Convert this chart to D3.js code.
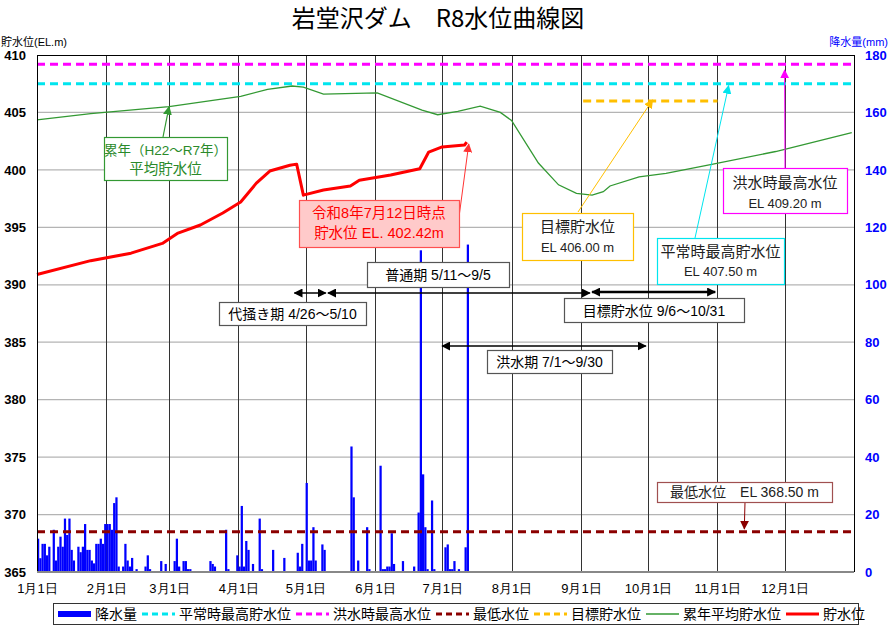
<!DOCTYPE html>
<html>
<head>
<meta charset="utf-8">
<script src="https://cdn.jsdelivr.net/npm/d3@7"></script>
<style>
  body { margin: 0; background: #fff; }
  svg { font-family: "Liberation Sans", "Noto Sans CJK JP", sans-serif; }
</style>
</head>
<body>
<div id="chart"></div>
<script>
// ---- data ----
const chartTitle = '岩堂沢ダム　R8水位曲線図';
const levelTicks = [365, 370, 375, 380, 385, 390, 395, 400, 405, 410];
const rainTicks = [0, 20, 40, 60, 80, 100, 120, 140, 160, 180];
const monthLabels = ['1月1日', '2月1日', '3月1日', '4月1日', '5月1日', '6月1日',
  '7月1日', '8月1日', '9月1日', '10月1日', '11月1日', '12月1日'];

// daily rainfall (mm) from 1/1
const rainStart = '2026-01-01';
const rainfall = [
  11.6, 4.8, 9.8, 9.8, 5.8, 8.8, 0, 14.7, 4, 8.8,
  12.3, 8.8, 18.6, 12.9, 18.6, 7.7, 4, 0, 8.8, 6.9,
  8.8, 16.7, 7.7, 7.7, 4, 3, 9.8, 9.8, 11.6, 9.8,
  16.7, 16.7, 16.7, 14.7, 24, 26, 1.9, 0, 1.9, 9.8,
  4, 1.9, 4.9, 0, 1, 0, 0, 0, 1.9, 5.8,
  1, 0, 0, 0, 0, 3.8, 0, 2.8, 0, 0,
  0, 3.8, 11.6, 1.9, 0, 3.8, 3.8, 1, 1, 0,
  0, 0, 0, 0, 0, 0, 0, 3.8, 2.8, 1.9,
  0, 0, 0, 0, 14.7, 1, 0, 0, 0, 5.8,
  1.9, 23, 1.9, 10.8, 7.7, 0, 2.8, 0, 0, 18.6,
  1, 0, 0, 0, 0, 7.7, 0, 0, 0, 0,
  4.9, 0, 0, 0, 0, 0, 6.7, 1.9, 9.8, 0,
  31, 4, 4, 15.6, 4, 0, 0, 9.6, 7.7, 0,
  0, 0, 0, 0, 0, 0, 0, 0, 0, 0,
  43.7, 26, 0, 4, 0, 0, 0, 15.6, 1, 0,
  0, 0, 0, 37, 1, 1, 1.9, 1.9, 13.5, 2.8,
  0, 0, 0, 3.8, 0, 0, 0, 0, 1.9, 0,
  20.7, 112, 34, 15.6, 1, 0, 24.9, 1, 0, 0,
  0, 0, 8.6, 9.6, 1, 1, 3.8, 0, 1, 0,
  0, 8.6, 114
];

// R8 storage level (貯水位)
const storageDates = ['2026-01-01', '2026-01-25', '2026-02-12', '2026-02-26', '2026-03-05',
  '2026-03-15', '2026-03-25', '2026-04-02', '2026-04-09', '2026-04-15', '2026-04-24',
  '2026-04-27', '2026-04-30', '2026-05-09', '2026-05-21', '2026-05-25', '2026-06-08',
  '2026-06-21', '2026-06-25', '2026-07-01', '2026-07-11', '2026-07-12'];
const storageLevels = [390.9, 392.1, 392.75, 393.6, 394.5,
  395.2, 396.25, 397.2, 398.85, 399.9, 400.4,
  400.5, 397.8, 398.25, 398.6, 399.1, 399.55,
  400.1, 401.55, 402.0, 402.17, 402.42];

// average storage level H22-R7 (累年平均貯水位)
const avgDates = ['2026-01-01', '2026-01-25', '2026-03-01', '2026-04-02', '2026-04-14',
  '2026-04-25', '2026-04-30', '2026-05-09', '2026-06-02', '2026-06-22', '2026-06-29',
  '2026-07-08', '2026-07-18', '2026-07-27', '2026-08-01', '2026-08-13', '2026-08-22',
  '2026-08-30', '2026-09-06', '2026-09-11', '2026-09-14', '2026-09-27', '2026-10-09',
  '2026-10-30', '2026-11-27', '2026-12-31'];
const avgLevels = [404.35, 404.9, 405.5, 406.4, 407.0,
  407.3, 407.2, 406.6, 406.7, 405.2, 404.8,
  405.1, 405.55, 405.0, 404.3, 400.6, 398.7,
  397.95, 397.8, 398.1, 398.6, 399.4, 399.7,
  400.5, 401.6, 403.24];

const floodMaxLevel = 409.2;   // 洪水時最高水位
const normalMaxLevel = 407.5;  // 平常時最高貯水位
const minLevel = 368.5;        // 最低水位
const targetLevel = 406.0;     // 目標貯水位
const targetLineDates = ['2026-09-02', '2026-11-01'];

const periodLabels = ['代掻き期 4/26～5/10', '普通期 5/11～9/5', '洪水期 7/1～9/30', '目標貯水位 9/6～10/31'];
const periodStarts = ['2026-04-26', '2026-05-11', '2026-07-01', '2026-09-06'];
const periodEnds = ['2026-05-10', '2026-09-05', '2026-09-30', '2026-10-31'];

const seriesNames = ['降水量', '平常時最高貯水位', '洪水時最高水位', '最低水位', '目標貯水位', '累年平均貯水位', '貯水位'];

// ---- chart ----
const parseDate = d3.timeParse('%Y-%m-%d');
const margin = { top: 55, right: 36, bottom: 65, left: 37 };
const width = 890 - margin.left - margin.right;
const height = 637 - margin.top - margin.bottom;

const colors = {
  rain: '#0000ff', normal: '#00e5ee', flood: '#ff00ff', min: '#8b0000',
  target: '#ffbf00', avg: '#339933', storage: '#ff0000'
};

const svg = d3.select('#chart').append('svg')
  .attr('width', 890)
  .attr('height', 637);

const defs = svg.append('defs');
function marker(id, color, size) {
  defs.append('marker')
    .attr('id', id)
    .attr('viewBox', '0 0 10 10')
    .attr('refX', 9).attr('refY', 5)
    .attr('markerUnits', 'userSpaceOnUse')
    .attr('markerWidth', size).attr('markerHeight', size)
    .attr('orient', 'auto-start-reverse')
    .append('path')
    .attr('d', 'M0,0L10,5L0,10z')
    .attr('fill', color);
}
marker('arrBlack', '#000', 9);
marker('arrGreen', colors.avg, 9);
marker('arrRed', '#ff3333', 9);
marker('arrOrange', colors.target, 9);
marker('arrCyan', colors.normal, 9);
marker('arrMagenta', colors.flood, 9);
marker('arrMin', colors.min, 9);

svg.append('text')
  .attr('x', 438).attr('y', 27)
  .attr('text-anchor', 'middle')
  .style('font-size', '24px')
  .style('font-family', '"Noto Sans CJK JP", sans-serif')
  .text(chartTitle);

svg.append('text')
  .attr('x', 1).attr('y', 46)
  .style('font-size', '11px')
  .text('貯水位(EL.m)');
svg.append('text')
  .attr('x', 888).attr('y', 46)
  .attr('text-anchor', 'end')
  .style('font-size', '11px')
  .attr('fill', '#0000ff')
  .text('降水量(mm)');

const g = svg.append('g')
  .attr('transform', 'translate(' + margin.left + ',' + margin.top + ')');

const x = d3.scaleTime()
  .domain([parseDate('2026-01-01'), parseDate('2027-01-01')])
  .range([0, width]);
const y = d3.scaleLinear().domain([365, 410]).range([height, 0]);
const yr = d3.scaleLinear().domain([0, 180]).range([height, 0]);

const monthStarts = d3.timeMonth.range(parseDate('2026-01-01'), parseDate('2027-01-01'));

// grid
g.append('g').selectAll('line')
  .data(levelTicks.slice(1, -1))
  .enter().append('line')
  .attr('x1', 0).attr('x2', width)
  .attr('y1', d => y(d)).attr('y2', d => y(d))
  .attr('stroke', '#b4b4b4').attr('stroke-width', 1.2);

g.append('g').selectAll('line')
  .data(monthStarts.slice(1))
  .enter().append('line')
  .attr('x1', d => Math.round(x(d)) + 0.5).attr('x2', d => Math.round(x(d)) + 0.5)
  .attr('y1', 0).attr('y2', height)
  .attr('stroke', '#333').attr('stroke-width', 1);

// rainfall bars
const rainData = rainfall.map((v, i) => ({ date: d3.timeDay.offset(parseDate(rainStart), i), value: v }));
g.append('g').selectAll('rect')
  .data(rainData.filter(d => d.value > 0))
  .enter().append('rect')
  .attr('x', d => x(d.date))
  .attr('width', d => x(d3.timeDay.offset(d.date, 1)) - x(d.date))
  .attr('y', d => yr(d.value))
  .attr('height', d => height - yr(d.value))
  .attr('fill', colors.rain);

// reference levels
function hLine(level, color, x0, x1) {
  g.append('line')
    .attr('x1', x0).attr('x2', x1)
    .attr('y1', y(level)).attr('y2', y(level))
    .attr('stroke', color).attr('stroke-width', 3)
    .attr('stroke-dasharray', '8,5');
}
hLine(floodMaxLevel, colors.flood, 0, width);
hLine(normalMaxLevel, colors.normal, 0, width);
hLine(minLevel, colors.min, 0, width);
hLine(targetLevel, colors.target, x(parseDate(targetLineDates[0])), x(parseDate(targetLineDates[1])));

// average line
const avgData = avgDates.map((d, i) => ({ date: parseDate(d), level: avgLevels[i] }));
const storageData = storageDates.map((d, i) => ({ date: parseDate(d), level: storageLevels[i] }));
const line = d3.line().x(d => x(d.date)).y(d => y(d.level));

g.append('path')
  .datum(avgData)
  .attr('d', line)
  .attr('fill', 'none')
  .attr('stroke', colors.avg).attr('stroke-width', 1.3);

g.append('path')
  .datum(storageData)
  .attr('d', line)
  .attr('fill', 'none')
  .attr('stroke', colors.storage).attr('stroke-width', 3)
  .attr('stroke-linejoin', 'round');

// frame
g.append('line').attr('x1', 0).attr('x2', width).attr('y1', 0.5).attr('y2', 0.5).attr('stroke', '#000');
g.append('line').attr('x1', 0.5).attr('x2', 0.5).attr('y1', 0).attr('y2', height).attr('stroke', '#000');
g.append('line').attr('x1', width + 0.5).attr('x2', width + 0.5).attr('y1', 0).attr('y2', height).attr('stroke', '#000');
g.append('line').attr('x1', 0).attr('x2', width).attr('y1', height).attr('y2', height).attr('stroke', '#888').attr('stroke-width', 2);

// axes
const yAxis = g.append('g')
  .call(d3.axisLeft(y).tickValues(levelTicks).tickSize(0).tickPadding(11));
yAxis.select('.domain').remove();
yAxis.selectAll('text').style('font-size', '13px').style('font-weight', 'bold').attr('fill', '#000');

const yrAxis = g.append('g')
  .attr('transform', 'translate(' + width + ',0)')
  .call(d3.axisRight(yr).tickValues(rainTicks).tickSize(0).tickPadding(11));
yrAxis.select('.domain').remove();
yrAxis.selectAll('text').style('font-size', '13px').style('font-weight', 'bold').attr('fill', '#0000ff');

const xAxis = g.append('g')
  .attr('transform', 'translate(0,' + height + ')')
  .call(d3.axisBottom(x).tickValues(monthStarts).tickSize(0).tickPadding(12)
    .tickFormat((d, i) => monthLabels[i]));
xAxis.select('.domain').remove();
xAxis.selectAll('text').style('font-size', '13px').attr('fill', '#000');

// ---- annotations (page coords) ----
const px = d => margin.left + x(parseDate(d));
const py = v => margin.top + y(v);

function box(x0, y0, x1, y1, fill, stroke) {
  svg.append('rect')
    .attr('x', x0 + 0.5).attr('y', y0 + 0.5)
    .attr('width', x1 - x0).attr('height', y1 - y0)
    .attr('fill', fill).attr('stroke', stroke).attr('stroke-width', 1.2);
}
function label(cx, cy, txt, size, color) {
  svg.append('text')
    .attr('x', cx).attr('y', cy)
    .attr('text-anchor', 'middle')
    .attr('dominant-baseline', 'central')
    .style('font-size', size + 'px')
    .attr('fill', color)
    .text(txt);
}
function arrow(x1, y1, x2, y2, color, markerId, w, both) {
  const l = svg.append('line')
    .attr('x1', x1).attr('y1', y1).attr('x2', x2).attr('y2', y2)
    .attr('stroke', color).attr('stroke-width', w)
    .attr('marker-end', 'url(#' + markerId + ')');
  if (both) l.attr('marker-start', 'url(#' + markerId + ')');
}

// period arrows
arrow(px(periodStarts[0]), 293, px(periodEnds[0]), 293, '#000', 'arrBlack', 1.5, true);
arrow(px(periodStarts[1]), 293, px(periodEnds[1]), 293, '#000', 'arrBlack', 1.5, true);
arrow(px(periodStarts[3]), 292, px(periodEnds[3]), 292, '#000', 'arrBlack', 2.5, true);
arrow(px(periodStarts[2]), 346, px(periodEnds[2]), 346, '#000', 'arrBlack', 1.5, true);

box(367, 262, 509, 287, '#fff', '#555');
label(438, 275, periodLabels[1], 14, '#000');
box(219, 302, 366, 325, '#fff', '#555');
label(292.5, 314, periodLabels[0], 14, '#000');
box(564, 298, 744, 322, '#fff', '#555');
label(654, 310.5, periodLabels[3], 14, '#000');
box(487, 350, 612, 373, '#fff', '#555');
label(549.5, 362, periodLabels[2], 14, '#000');

// average level callout
arrow(163, 137, px(avgDates[2]), py(avgLevels[2]), colors.avg, 'arrGreen', 1.2);
box(104, 137, 227, 180, '#fff', colors.avg);
label(165.5, 150, '累年（H22～R7年）', 13.5, '#2a8a2a');
label(165.5, 169, '平均貯水位', 14.5, '#2a8a2a');

// current level callout
const last = storageData[storageData.length - 1];
arrow(459, 217, margin.left + x(last.date) + 2, margin.top + y(last.level) + 2, '#ff3333', 'arrRed', 1);
box(299, 200, 459, 247, '#ffcaca', '#ff5050');
label(379, 213, '令和8年7月12日時点', 14.5, '#ff0000');
label(379, 233, '貯水位 EL. ' + last.level.toFixed(2) + 'm', 14.5, '#ff0000');

// level callouts
arrow(578, 212, px('2026-10-03'), py(targetLevel) - 1, colors.target, 'arrOrange', 1);
box(522, 213, 633, 260, '#fff', colors.target);
label(577.5, 226, '目標貯水位', 15, '#222');
label(577.5, 247, 'EL ' + targetLevel.toFixed(2) + ' m', 13, '#222');

arrow(695, 238, px('2026-11-06'), py(normalMaxLevel) + 2, colors.normal, 'arrCyan', 1);
box(657, 238, 784, 284, '#fff', colors.normal);
label(720.5, 251, '平常時最高貯水位', 15, '#222');
label(720.5, 271, 'EL ' + normalMaxLevel.toFixed(2) + ' m', 13, '#222');

arrow(785, 168, px('2026-12-01'), py(floodMaxLevel) + 6, colors.flood, 'arrMagenta', 1);
box(723, 168, 847, 213, '#fff', colors.flood);
label(785, 182, '洪水時最高水位', 15, '#222');
label(785, 203, 'EL ' + floodMaxLevel.toFixed(2) + ' m', 13, '#222');

arrow(745, 502, px('2026-11-13'), py(minLevel) - 3, colors.min, 'arrMin', 1);
box(657, 482, 832, 502, '#fff', '#a05050');
label(744.5, 492, '最低水位　EL ' + minLevel.toFixed(2) + ' m', 14, '#222');

// ---- legend ----
const lg = svg.append('g');
lg.append('rect')
  .attr('x', 53.5).attr('y', 603.5).attr('width', 805).attr('height', 21)
  .attr('fill', '#fff').attr('stroke', '#333');
const legendStyle = [
  { color: colors.rain, w: 6, dash: null },
  { color: colors.normal, w: 3, dash: '6,4' },
  { color: colors.flood, w: 3, dash: '6,4' },
  { color: colors.min, w: 3, dash: '6,4' },
  { color: colors.target, w: 3, dash: '6,4' },
  { color: colors.avg, w: 1.3, dash: null },
  { color: colors.storage, w: 3, dash: null }
];
let lx = 58;
seriesNames.forEach((name, i) => {
  const s = legendStyle[i];
  lg.append('line')
    .attr('x1', lx).attr('x2', lx + 33)
    .attr('y1', 614).attr('y2', 614)
    .attr('stroke', s.color).attr('stroke-width', s.w)
    .attr('stroke-dasharray', s.dash);
  const t = lg.append('text')
    .attr('x', lx + 37).attr('y', 614)
    .attr('dominant-baseline', 'central')
    .style('font-size', '14px')
    .attr('fill', '#000')
    .text(name);
  lx += 37 + t.node().getComputedTextLength() + 5;
});
</script>
</body>
</html>
